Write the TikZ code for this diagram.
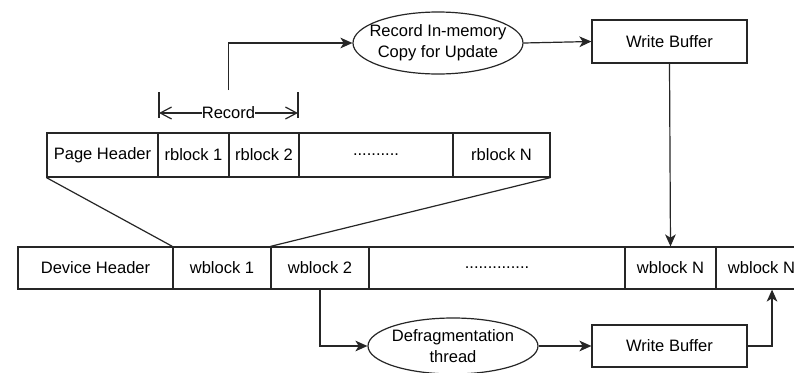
\documentclass[tikz,border=0pt]{standalone}
\usepackage{fontspec}
\setmainfont{Liberation Sans}
\usetikzlibrary{shapes.geometric,arrows.meta}
\begin{document}
\begin{tikzpicture}[x=0.75pt,y=-0.75pt,
  every node/.style={font=\fontsize{12.4}{15.5}\selectfont, text=black, inner sep=0pt},
  line/.style={draw=black!85, line width=0.9pt},
  cellA/.style={line, rectangle, minimum height=33pt},
  cellB/.style={line, rectangle, minimum height=31.5pt},
  oval/.style={line, ellipse},
  box/.style={line, rectangle, minimum width=116.25pt, minimum height=32.25pt},
  arr/.style={line, -{Stealth[length=9pt,width=8pt,inset=2.5pt]}},
  barb/.style={line, {Straight Barb[length=8.5pt,width=9pt]}-{Straight Barb[length=8.5pt,width=9pt]}}]
\useasboundingbox (0,0) rectangle (794,372);
\fill[white] (0,0) rectangle (794,372);
\clip (0,0) rectangle (794,372);

% top row
\node[oval, minimum width=127.5pt, minimum height=46.5pt,
  label={[align=center]center:Record In-memory\\Copy for Update}] (ell1) at (438,43) {};
\node[box] (wb1) at (669.5,41.5) {Write Buffer};

% record bracket
\coordinate (recLt) at (159,92);
\coordinate (recLb) at (159,118);
\coordinate (recRt) at (298,92);
\coordinate (recRb) at (298,118);
\coordinate (recL) at (159,113);
\coordinate (recR) at (298,113);
\coordinate (rec) at (228.5,90);
\draw[line] (recLt) -- (recLb);
\draw[line] (recRt) -- (recRb);
\draw[barb] (recL) -- (recR) node[midway, fill=white] (reclab) {Record};

% page row
\node[cellA, minimum width=83.25pt] (ph) at (102.5,155) {Page Header};
\node[cellA, minimum width=53.25pt] (r1) at (193.5,155) {rblock 1};
\node[cellA, minimum width=52.5pt] (r2) at (264,155) {rblock 2};
\node[cellA, minimum width=115.5pt] (rd) at (376,155) {..........};
\node[cellA, minimum width=72.75pt] (rn) at (501.5,155) {rblock N};

% device row
\node[cellB, minimum width=116.25pt] (dh) at (95.5,268) {Device Header};
\node[cellB, minimum width=73.5pt] (w1) at (222,268) {wblock 1};
\node[cellB, minimum width=73.5pt] (w2) at (320,268) {wblock 2};
\node[cellB, minimum width=192pt] (wd) at (497,268) {..............};
\node[cellB, minimum width=68.25pt] (wn) at (670.5,268) {wblock N};
\node[cellB, minimum width=68.25pt] (wn2) at (761.5,268) {wblock N};

% bottom row
\node[oval, minimum width=127.5pt, minimum height=42pt,
  label={[align=center]center:Defragmentation\\thread}] (ell2) at (453,346) {};
\node[box, minimum height=31.5pt] (wb2) at (669.5,346) {Write Buffer};

% connectors
\draw[arr] (rec) |- (ell1.west);
\draw[arr] (ell1.east) -- (wb1.west);
\draw[arr] (wb1.south) -- (wn.north);
\draw[line] (ph.south west) -- (w1.north west);
\draw[line] (rn.south east) -- (w2.north west);
\draw[arr] (w2.south) |- (ell2.west);
\draw[arr] (ell2.east) -- (wb2.west);
\draw[arr] (wb2.east) -| ([xshift=7.9pt]wn2.south);
\end{tikzpicture}
\end{document}
